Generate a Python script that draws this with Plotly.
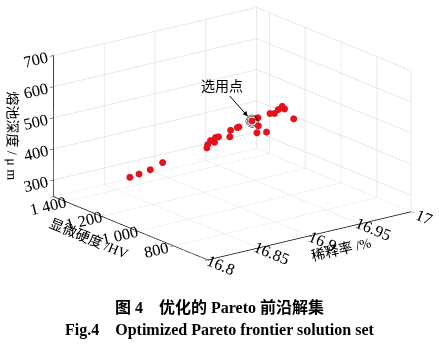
import plotly.graph_objects as go

# Pareto solution set
dilution = [16.852, 16.857, 16.864, 16.874, 16.896, 16.901, 16.907, 16.904, 16.911, 16.912,
            16.912, 16.922, 16.926, 16.927, 16.936, 16.941, 16.929, 16.918, 16.919, 16.947,
            16.947, 16.953, 16.958, 16.954, 16.939]
hardness = [1339, 1316, 1293, 1281, 1159, 1183, 1201, 1162, 1196, 1185,
            1122, 1174, 1159, 1156, 1135, 1130, 1059, 1005, 957, 1096,
            1071, 1084, 1090, 1055, 919]
depth = [300, 312, 326, 344, 403, 404, 408, 414, 416, 420,
         435, 436, 445, 447, 464, 472, 472, 471, 484, 489,
         495, 500, 505, 508, 520]

sel_dilution = [16.936]
sel_hardness = [1135]
sel_depth = [464]

x_range = [16.8, 17.0]
y_range = [610, 1470]
z_range = [247, 700]

x_ticks = [16.8, 16.85, 16.9, 16.95, 17.0]
x_ticktext = ["16.8", "16.85", "16.9", "16.95", "17"]
y_ticks = [610, 800, 1000, 1200, 1400, 1470]
y_ticktext = ["", "800", "1 000", "1 200", "1 400", ""]
z_ticks = [300, 400, 500, 600, 700]
z_ticktext = ["300", "400", "500", "600", "700"]

FONT = "Liberation Serif, Times New Roman, Noto Sans CJK SC"

fig = go.Figure()
fig.add_trace(go.Scatter3d(
    x=dilution, y=hardness, z=depth, mode="markers",
    marker=dict(size=4, color="#e8101a", line=dict(width=0)),
    showlegend=False, hoverinfo="skip"))
fig.add_trace(go.Scatter3d(
    x=sel_dilution, y=sel_hardness, z=sel_depth, mode="markers",
    marker=dict(size=7, color="rgba(0,0,0,0)", symbol="circle-open",
                line=dict(width=1.5, color="black")),
    showlegend=False, hoverinfo="skip"))

axis_common = dict(
    showbackground=False, gridcolor="#d4d4d4", gridwidth=1,
    showline=True, linecolor="black", linewidth=1.5,
    ticks="outside", tickcolor="black", ticklen=4,
    zeroline=False, showspikes=False,
    tickfont=dict(family=FONT, size=14, color="black"),
    autorange=False,
)

cx, cy, cz = -0.1014, -0.0114, -0.2138
ex, ey, ez = -0.575 * 2.0, -0.757 * 2.0, 0.312 * 2.0

fig.update_layout(
    width=439, height=345,
    margin=dict(l=0, r=0, t=0, b=0),
    paper_bgcolor="white",
    font=dict(family=FONT, color="black"),
    scene=dict(
        domain=dict(x=[0.0, 1.0], y=[0.0, 1.0]),
        xaxis=dict(range=x_range, tickvals=x_ticks, ticktext=x_ticktext,
                   title=dict(text="稀释率 /%", font=dict(family=FONT, size=14)),
                   **axis_common),
        yaxis=dict(range=y_range, tickvals=y_ticks, ticktext=y_ticktext,
                   title=dict(text="显微硬度 /HV", font=dict(family=FONT, size=14)),
                   **axis_common),
        zaxis=dict(range=z_range, tickvals=z_ticks, ticktext=z_ticktext,
                   title=dict(text="熔池深度 / μ m", font=dict(family=FONT, size=14)),
                   **axis_common),
        aspectmode="manual",
        aspectratio=dict(x=1.48, y=1.48, z=0.86),
        camera=dict(
            eye=dict(x=ex + cx, y=ey + cy, z=ez + cz),
            up=dict(x=0, y=0, z=1),
            center=dict(x=cx, y=cy, z=cz),
            projection=dict(type="orthographic"),
        ),
        annotations=[dict(
            x=sel_dilution[0], y=sel_hardness[0], z=sel_depth[0],
            text="选用点", showarrow=True, arrowhead=2, arrowsize=1,
            arrowwidth=1, arrowcolor="black", ax=-30, ay=-34,
            standoff=6, font=dict(family=FONT, size=14, color="black"),
        )],
    ),
    annotations=[
        dict(text="<b>图 4　优化的 Pareto 前沿解集</b>", x=0.5, y=(345 - 307) / 345,
             xref="paper", yref="paper", xanchor="center", yanchor="middle",
             showarrow=False, font=dict(family=FONT, size=16, color="black")),
        dict(text="<b>Fig.4　Optimized Pareto frontier solution set</b>", x=0.5,
             y=(345 - 330) / 345, xref="paper", yref="paper", xanchor="center",
             yanchor="middle", showarrow=False,
             font=dict(family=FONT, size=16, color="black")),
    ],
)

fig.write_html("out.html")
